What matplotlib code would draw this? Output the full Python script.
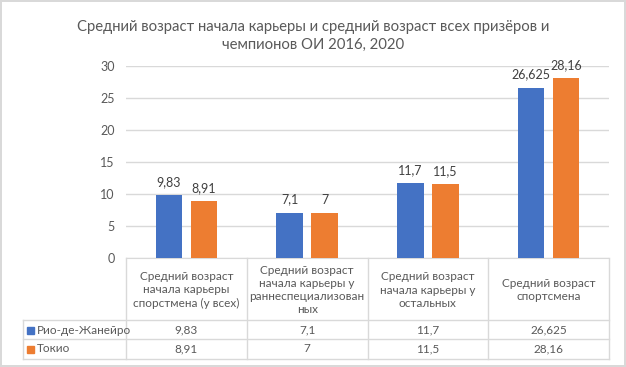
import matplotlib.pyplot as plt
import numpy as np

plt.rcParams['font.family'] = ['Lato', 'DejaVu Sans']

categories = [
    'Средний возраст\nначала карьеры\nспорстмена (у всех)',
    'Средний возраст\nначала карьеры у\nраннеспециализован\nных',
    'Средний возраст\nначала карьеры у\nостальных',
    'Средний возраст\nспортсмена',
]
series_names = ['Рио-де-Жанейро', 'Токио']
rio = [9.83, 7.1, 11.7, 26.625]
tokyo = [8.91, 7, 11.5, 28.16]
rio_labels = ['9,83', '7,1', '11,7', '26,625']
tokyo_labels = ['8,91', '7', '11,5', '28,16']
yticks = [0, 5, 10, 15, 20, 25, 30]

colors = ['#4472C4', '#ED7D31']
txt = '#595959'
grid = '#D9D9D9'
fs = 9
tfs = 8.5

W, H = 626, 367
fig = plt.figure(figsize=(W / 100, H / 100), dpi=100)
fig.patch.set_edgecolor('#D9D9D9')
fig.patch.set_linewidth(1.5)

# plot area in pixels
px_l, px_r, px_t, px_b = 126, 609, 66, 258
ax = fig.add_axes([px_l / W, 1 - px_b / H, (px_r - px_l) / W, (px_b - px_t) / H])

x = np.arange(len(categories))
bw, off = 0.22, 0.145
b1 = ax.bar(x - off, rio, bw, color=colors[0], zorder=3)
b2 = ax.bar(x + off, tokyo, bw, color=colors[1], zorder=3)
ax.bar_label(b1, labels=rio_labels, padding=5, fontsize=fs, color='#404040')
ax.bar_label(b2, labels=tokyo_labels, padding=5, fontsize=fs, color='#404040')

ax.set_xlim(-0.5, len(categories) - 0.5)
ax.set_ylim(0, 30)
ax.set_yticks(yticks)
ax.set_yticklabels([str(t) for t in yticks])
ax.tick_params(axis='y', length=0, pad=8, labelsize=fs, labelcolor=txt)
ax.set_xticks([])
ax.grid(axis='y', color=grid, linewidth=1, zorder=0)
for s in ['top', 'right', 'left']:
    ax.spines[s].set_visible(False)
ax.spines['bottom'].set_color(grid)

fig.text(0.5, 1 - 27 / H, 'Средний возраст начала карьеры и средний возраст всех призёров и',
         ha='center', va='center', fontsize=10.7, color=txt)
fig.text(0.5, 1 - 45 / H, 'чемпионов ОИ 2016, 2020',
         ha='center', va='center', fontsize=10.7, color=txt)

# data table below the plot
ov = fig.add_axes([0, 0, 1, 1], facecolor='none')
ov.set_xlim(0, W)
ov.set_ylim(H, 0)
ov.axis('off')

n = len(categories)
cw = (px_r - px_l) / n
edges = [px_l + i * cw for i in range(n + 1)]
head_b, row1_b, row2_b = 320, 339, 359
leg_l = 23

for e in edges:
    ov.plot([e, e], [px_b, row2_b], color=grid, lw=1)
ov.plot([leg_l, leg_l], [head_b, row2_b], color=grid, lw=1)
for yy in [head_b, row1_b, row2_b]:
    ov.plot([leg_l, px_r], [yy, yy], color=grid, lw=1)

for i, c in enumerate(categories):
    cx = (edges[i] + edges[i + 1]) / 2
    ov.text(cx, (px_b + head_b) / 2 + 1, c, ha='center', va='center',
            fontsize=tfs, color=txt, linespacing=1.25)

rows = [(series_names[0], rio_labels, row1_b - 19), (series_names[1], tokyo_labels, row2_b - 20)]
for k, (name, labs, top) in enumerate(rows):
    yc = (top + top + 19) / 2 + 0.5
    ov.add_patch(plt.Rectangle((27, yc - 3.5), 7, 7, color=colors[k]))
    ov.text(37, yc, name, ha='left', va='center', fontsize=tfs, color=txt)
    for i, lab in enumerate(labs):
        cx = (edges[i] + edges[i + 1]) / 2
        ov.text(cx, yc, lab, ha='center', va='center', fontsize=tfs, color=txt)

fig.savefig('out.png', dpi=100)
